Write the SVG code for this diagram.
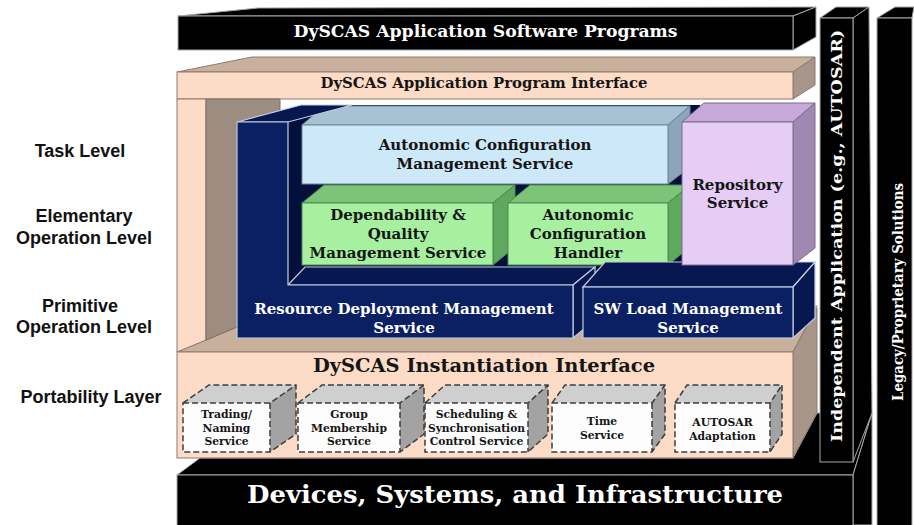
<svg xmlns="http://www.w3.org/2000/svg" width="914" height="525" viewBox="0 0 914 525">
<style>
.sb{font-family:"DejaVu Serif","Liberation Serif",serif;font-weight:bold;text-anchor:middle}
.w{fill:#fff}
.k{fill:#151515}
.lbl{font-family:"Liberation Sans",Arial,sans-serif;font-weight:bold;font-size:18px;text-anchor:middle;fill:#111}
.blk{fill:#000;stroke:#a8a8a8;stroke-width:1}
.peach{fill:#fcdcc6;stroke:#8c7b70;stroke-width:1}
.tan{fill:#c8b09c;stroke:#8c7b70;stroke-width:1}
.tanside{fill:#a8968a;stroke:#8c7b70;stroke-width:1}
.navy{fill:#0b2062;stroke:#c4cde0;stroke-width:1.2}
.navyd{fill:#071850;stroke:#c4cde0;stroke-width:1.2}
.inner{fill:#03103b}
.lbF{fill:#cde8f8;stroke:#6f8797;stroke-width:1}
.lbT{fill:#a9c2d3;stroke:#6f8797;stroke-width:1}
.lbS{fill:#8ca6b9;stroke:#6f8797;stroke-width:1}
.gF{fill:#a6f0a0;stroke:#4f8a4f;stroke-width:1}
.gT{fill:#7dc47a;stroke:#4f8a4f;stroke-width:1}
.gS{fill:#5fa860;stroke:#4f8a4f;stroke-width:1}
.pF{fill:#e6cdf6;stroke:#7e6a90;stroke-width:1}
.pT{fill:#c6a9d8;stroke:#7e6a90;stroke-width:1}
.pS{fill:#9f89b3;stroke:#7e6a90;stroke-width:1}
.dF{fill:#fdfdfd}
.dT{fill:#cfcfcf}
.dS{fill:#a3a3a3}
.dash{fill:none;stroke:#3c3c3c;stroke-width:1.5;stroke-dasharray:6 3}
.sm{font-size:10.8px}
</style>

<g id="level-labels">
<text class="lbl" x="80" y="157">Task Level</text>
<text class="lbl" x="84" y="222">Elementary</text>
<text class="lbl" x="84" y="244">Operation Level</text>
<text class="lbl" x="80" y="312">Primitive</text>
<text class="lbl" x="84" y="333">Operation Level</text>
<text class="lbl" x="91" y="403">Portability Layer</text>
</g>

<g id="devices">
<polygon class="blk" points="177,475 200,458 793,458 817,413 872,413 853,475"/>
<polygon class="blk" points="853,475 872,413 872,525 853,525"/>
<rect class="blk" x="177" y="475" width="676" height="56"/>
<text class="sb w" x="515" y="503" font-size="24" textLength="536" lengthAdjust="spacingAndGlyphs">Devices, Systems, and Infrastructure</text>
</g>

<g id="legacy">
<polygon class="blk" points="877,18 895,7 914,7 912,18"/>
<rect class="blk" x="877" y="18" width="35" height="512"/>
<text class="sb w" font-size="14.5" transform="translate(903,292) rotate(-90)" textLength="218" lengthAdjust="spacingAndGlyphs">Legacy/Proprietary Solutions</text>
</g>

<g id="independent">
<polygon class="blk" points="820,18 853,18 869,7 836,7"/>
<polygon class="blk" points="853,18 869,7 872,413 853,462"/>
<rect class="blk" x="820" y="18" width="33" height="444"/>
<text class="sb w" font-size="15.5" transform="translate(842,236) rotate(-90)" textLength="412" lengthAdjust="spacingAndGlyphs">Independent Application (e.g., AUTOSAR)</text>
</g>

<g id="app-software">
<polygon class="blk" points="178,16 258,8 816,7 793,16"/>
<polygon class="blk" points="793,16 816,7 816,37 793,50"/>
<rect class="blk" x="178" y="16" width="615" height="34"/>
<text class="sb w" x="485.5" y="37" font-size="16" textLength="384" lengthAdjust="spacingAndGlyphs">DySCAS Application Software Programs</text>
</g>

<g id="api">
<polygon class="tan" points="177,72 252,57 815,57 793,72"/>
<polygon class="tanside" points="793,72 815,57 815,85 793,99"/>
<rect class="peach" x="177" y="72" width="616" height="27"/>
<text class="sb k" x="484" y="88" font-size="15" textLength="327" lengthAdjust="spacingAndGlyphs">DySCAS Application Program Interface</text>
</g>

<g id="container">
<polygon class="tan" points="177,352 206,340 237,327 817,306 793,352"/>
<polygon class="tanside" points="793,352 817,308 817,413 793,457"/>
<polygon class="peach" points="177,99 206,99 206,340 177,352"/>
<polygon fill="#9d8c80" stroke="#7d6e64" stroke-width="1" points="206,99 280,99 280,112 237,122 237,327 206,340"/>
</g>

<g id="rdms-interior">
<polygon class="inner" points="288,122 310,105 700,105 700,285 288,285"/>
</g>

<g id="acms">
<polygon class="lbT" points="302,125 668,125 690,106 324,106"/>
<polygon class="lbS" points="668,125 690,106 690,167 668,184"/>
<rect class="lbF" x="302" y="125" width="366" height="59"/>
<text class="sb k" x="485" y="150" font-size="15">Autonomic Configuration</text>
<text class="sb k" x="485" y="169" font-size="15">Management Service</text>
</g>

<g id="dqms">
<polygon class="gT" points="302,203 493,203 515,185 324,185"/>
<polygon class="gS" points="493,203 515,185 515,247 493,265"/>
<rect class="gF" x="302" y="203" width="191" height="62"/>
<text class="sb k" x="398" y="220" font-size="15">Dependability &amp;</text>
<text class="sb k" x="398" y="239" font-size="15">Quality</text>
<text class="sb k" x="398" y="258" font-size="15">Management Service</text>
</g>

<g id="ach">
<polygon class="gT" points="508,203 668,203 690,185 530,185"/>
<polygon class="gS" points="668,203 690,185 690,247 668,265"/>
<rect class="gF" x="508" y="203" width="160" height="62"/>
<text class="sb k" x="588" y="220" font-size="15">Autonomic</text>
<text class="sb k" x="588" y="239" font-size="15">Configuration</text>
<text class="sb k" x="588" y="258" font-size="15">Handler</text>
</g>

<g id="rdms">
<polygon class="navyd" points="237,122 288,122 352,105 301,105"/>
<polygon class="navyd" points="288,285 573,285 595,267 305,267"/>
<polygon class="navyd" points="573,285 595,267 595,320 573,338"/>
<polygon class="navy" points="237,122 288,122 288,285 573,285 573,338 237,338"/>
<text class="sb w" x="404" y="314" font-size="15">Resource Deployment Management</text>
<text class="sb w" x="404" y="333" font-size="15">Service</text>
</g>

<g id="swload">
<polygon class="navyd" points="583,287 793,287 815,262 605,262"/>
<polygon class="navyd" points="793,287 815,262 815,318 793,338"/>
<rect class="navy" x="583" y="287" width="210" height="51"/>
<text class="sb w" x="688" y="314" font-size="15">SW Load Management</text>
<text class="sb w" x="688" y="333" font-size="15">Service</text>
</g>

<g id="repository">
<polygon class="pT" points="682,122 793,122 815,103 704,103"/>
<polygon class="pS" points="793,122 815,103 815,248 793,265"/>
<rect class="pF" x="682" y="122" width="111" height="143"/>
<text class="sb k" x="737.5" y="190" font-size="15">Repository</text>
<text class="sb k" x="737.5" y="208" font-size="15">Service</text>
</g>

<g id="instantiation">
<rect class="peach" x="177" y="352" width="616" height="106"/>
<text class="sb k" x="484" y="372" font-size="19" textLength="342" lengthAdjust="spacingAndGlyphs">DySCAS Instantiation Interface</text>
</g>

<g id="trading">
<polygon class="dT" points="183,403 270,403 296,385 209,385"/>
<polygon class="dS" points="270,403 296,385 296,434 270,452"/>
<rect class="dF" x="183" y="403" width="87" height="49"/>
<path class="dash" d="M183,403 L209,385 L296,385 L296,434 L270,452 L183,452 Z M183,403 L270,403 L296,385 M270,403 L270,452"/>
<text class="sb k sm" x="226.5" y="418">Trading/</text>
<text class="sb k sm" x="226.5" y="431.5">Naming</text>
<text class="sb k sm" x="226.5" y="445">Service</text>
</g>

<g id="group">
<polygon class="dT" points="298,403 400,403 424,385 322,385"/>
<polygon class="dS" points="400,403 424,385 424,434 400,452"/>
<rect class="dF" x="298" y="403" width="102" height="49"/>
<path class="dash" d="M298,403 L322,385 L424,385 L424,434 L400,452 L298,452 Z M298,403 L400,403 L424,385 M400,403 L400,452"/>
<text class="sb k sm" x="349" y="418">Group</text>
<text class="sb k sm" x="349" y="431.5">Membership</text>
<text class="sb k sm" x="349" y="445">Service</text>
</g>

<g id="scheduling">
<polygon class="dT" points="425,403 528,403 548,385 445,385"/>
<polygon class="dS" points="528,403 548,385 548,434 528,452"/>
<rect class="dF" x="425" y="403" width="103" height="49"/>
<path class="dash" d="M425,403 L445,385 L548,385 L548,434 L528,452 L425,452 Z M425,403 L528,403 L548,385 M528,403 L528,452"/>
<text class="sb k sm" x="476.5" y="418">Scheduling &amp;</text>
<text class="sb k sm" x="476.5" y="431.5" textLength="97" lengthAdjust="spacingAndGlyphs">Synchronisation</text>
<text class="sb k sm" x="476.5" y="445">Control Service</text>
</g>

<g id="time">
<polygon class="dT" points="552,403 652,403 665,385 565,385"/>
<polygon class="dS" points="652,403 665,385 665,434 652,452"/>
<rect class="dF" x="552" y="403" width="100" height="49"/>
<path class="dash" d="M552,403 L565,385 L665,385 L665,434 L652,452 L552,452 Z M552,403 L652,403 L665,385 M652,403 L652,452"/>
<text class="sb k sm" x="602" y="425">Time</text>
<text class="sb k sm" x="602" y="439">Service</text>
</g>

<g id="autosar">
<polygon class="dT" points="675,403 770,403 782,385 687,385"/>
<polygon class="dS" points="770,403 782,385 782,434 770,452"/>
<rect class="dF" x="675" y="403" width="95" height="49"/>
<path class="dash" d="M675,403 L687,385 L782,385 L782,434 L770,452 L675,452 Z M675,403 L770,403 L782,385 M770,403 L770,452"/>
<text class="sb k sm" x="722.5" y="426">AUTOSAR</text>
<text class="sb k sm" x="722.5" y="440">Adaptation</text>
</g>

<g id="connectors"/>
</svg>
